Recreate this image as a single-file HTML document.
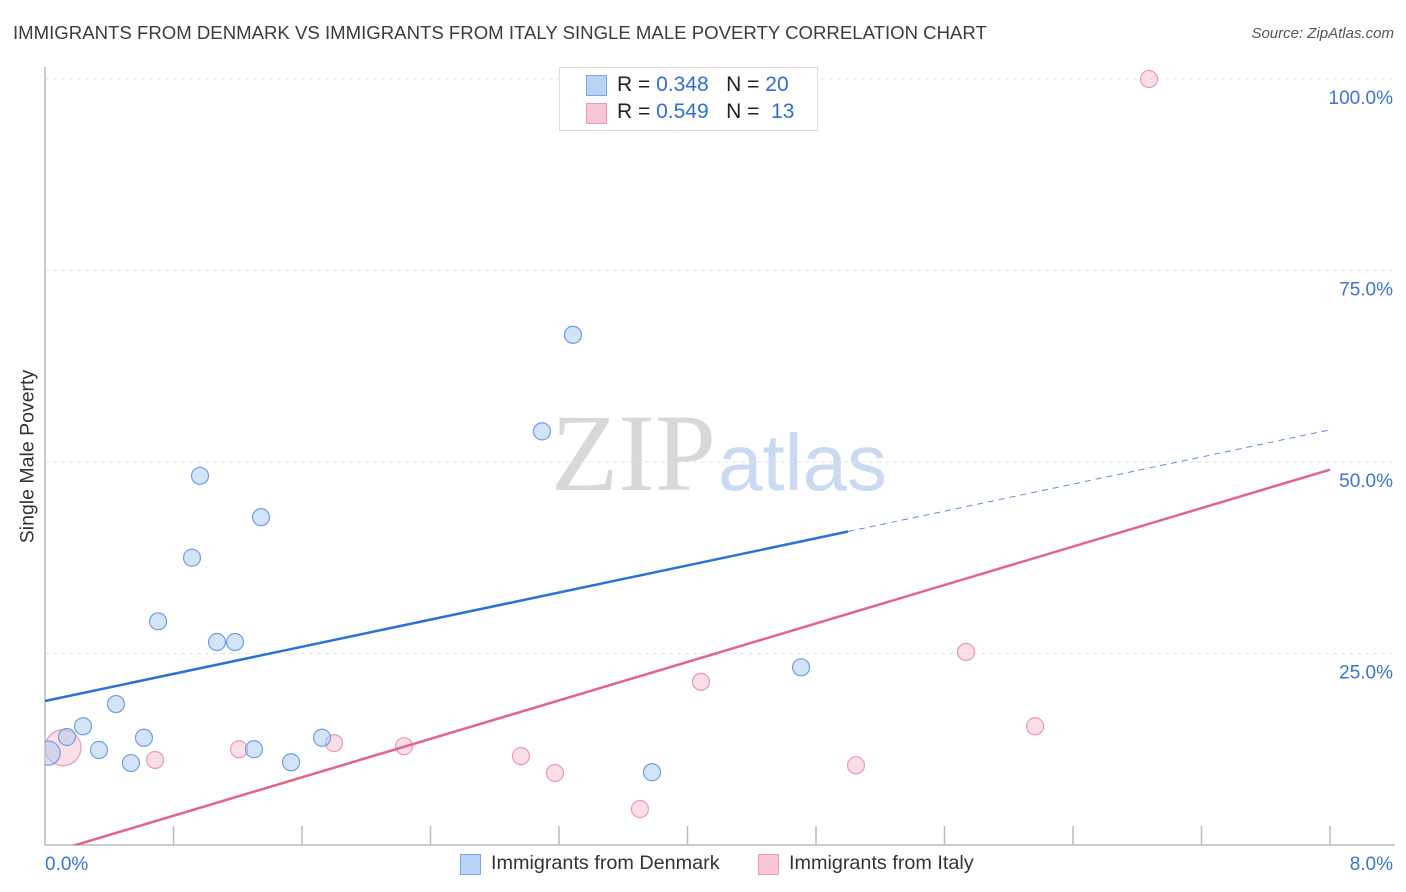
<!DOCTYPE html>
<html><head><meta charset="utf-8">
<style>
body{margin:0;background:#fff;font-family:"Liberation Sans",sans-serif;}
#wrap{position:relative;width:1406px;height:892px;overflow:hidden;}
.t{position:absolute;white-space:nowrap;}
</style></head>
<body>
<div id="wrap">
<div class="t" style="left:13px;top:22px;font-size:18.6px;color:#3c3c3c;">IMMIGRANTS FROM DENMARK VS IMMIGRANTS FROM ITALY SINGLE MALE POVERTY CORRELATION CHART</div>
<div class="t" style="right:12px;top:25px;font-size:15px;color:#555;font-style:italic;">Source: ZipAtlas.com</div>
<div class="t" style="left:-62px;top:445px;font-size:19.5px;color:#333;transform:rotate(-90deg);transform-origin:center;width:180px;text-align:center;">Single Male Poverty</div>
<svg id="plot" width="1406" height="892" style="position:absolute;left:0;top:0">
<text x="716" y="490" font-family="Liberation Serif,serif" font-size="110" fill="#d8d8d8" text-anchor="end">ZIP</text>
<text x="718" y="490" font-family="Liberation Sans,sans-serif" font-size="80" fill="#c9daf2">atlas</text>
</svg>
<div style="position:absolute;left:559px;top:67px;width:257px;height:62px;border:1px solid #ddd;background:#fff;"></div>
<div style="position:absolute;left:586px;top:75px;width:19px;height:19px;background:#b8d3f5;border:1px solid #7aa6e6;"></div>
<div style="position:absolute;left:586px;top:103px;width:19px;height:19px;background:#f9c6d5;border:1px solid #ee9ab6;"></div>
<div class="t" style="left:617px;top:73px;font-size:21px;color:#222;">R = <span style="color:#2f6fd3">0.348</span>&nbsp;&nbsp;&nbsp;N = <span style="color:#2f6fd3">20</span></div>
<div class="t" style="left:617px;top:100px;font-size:21px;color:#222;">R = <span style="color:#2f6fd3">0.549</span>&nbsp;&nbsp;&nbsp;N = &nbsp;<span style="color:#2f6fd3">13</span></div>
<div style="position:absolute;left:460px;top:854px;width:19px;height:19px;background:#b8d3f5;border:1px solid #7aa6e6;"></div>
<div class="t" style="left:491px;top:852px;font-size:19.8px;color:#333;">Immigrants from Denmark</div>
<div style="position:absolute;left:758px;top:854px;width:19px;height:19px;background:#f9c6d5;border:1px solid #ee9ab6;"></div>
<div class="t" style="left:789px;top:852px;font-size:19.8px;color:#333;">Immigrants from Italy</div>
</div>
<script>
const denX=[0.02,0.137,0.237,0.336,0.442,0.535,0.616,0.704,0.915,0.965,1.071,1.183,1.301,1.345,1.532,1.725,3.094,3.287,3.779,4.707];
const denY=[12.0,14.1,15.5,12.4,18.4,10.7,14.0,29.2,37.5,48.2,26.5,26.5,12.5,42.8,10.8,14.0,54.0,66.6,9.5,23.2];
const denR=[12,8.5,8.5,8.5,8.5,8.5,8.5,8.5,8.5,8.5,8.5,8.5,8.5,8.5,8.5,8.5,8.5,8.5,8.5,8.5];
const itaX=[0.112,0.685,1.208,1.799,2.235,2.963,3.175,3.704,4.084,5.049,5.734,6.164,6.873];
const itaY=[12.7,11.1,12.5,13.3,12.9,11.6,9.4,4.7,21.3,10.4,25.2,15.5,100];
const itaR=[18,8.5,8.5,8.5,8.5,8.5,8.5,8.5,8.5,8.5,8.5,8.5,8.5];
const denLine=[18.8,54.2]; const denSolidEnd=5.0;
const itaLine=[-1.2,49.0];
const yTicks=[25,50,75,100];
const yTickLabels=["25.0%","50.0%","75.0%","100.0%"];
const xTicks=[0,0.8,1.6,2.4,3.2,4.0,4.8,5.6,6.4,7.2,8.0];
const X0=45,X1=1330,Y0=845,Y100=79;
const sx=v=>X0+(v/8)*(X1-X0);
const sy=v=>Y0-(v/100)*(Y0-Y100);
const svg=document.getElementById('plot');
const NS='http://www.w3.org/2000/svg';
function mk(tag,a){const e=document.createElementNS(NS,tag);for(const k in a)e.setAttribute(k,a[k]);svg.appendChild(e);return e;}
yTicks.forEach((t,i)=>{
 const g=mk('line',{x1:X0,x2:1395,y1:sy(t),y2:sy(t),stroke:'#e3e3e3','stroke-dasharray':'4,4'});
 
 
 const tx=mk('text',{x:1393,y:sy(t)+25,'text-anchor':'end','font-size':19,fill:'#3a75d0','font-family':'Liberation Sans,sans-serif'});
 tx.textContent=yTickLabels[i];
 
 
});
const ya=mk('line',{x1:X0,x2:X0,y1:67,y2:Y0,stroke:'#bbb','stroke-width':1.5});


const xa=mk('line',{x1:X0,x2:1395,y1:Y0,y2:Y0,stroke:'#bbb','stroke-width':1.5});


xTicks.slice(1).forEach(t=>{
 const l=mk('line',{x1:sx(t),x2:sx(t),y1:826,y2:Y0,stroke:'#bbb','stroke-width':1.5});
 
 
});
const xl0=mk('text',{x:45,y:870,'font-size':19,fill:'#3a75d0','font-family':'Liberation Sans,sans-serif'});xl0.textContent='0.0%';


const xl1=mk('text',{x:1393,y:870,'text-anchor':'end','font-size':19,fill:'#3a75d0','font-family':'Liberation Sans,sans-serif'});xl1.textContent='8.0%';


const dy=x=>denLine[0]+(denLine[1]-denLine[0])*x/8;
const iy=x=>itaLine[0]+(itaLine[1]-itaLine[0])*x/8;
const cp=mk('clipPath',{id:'cp'});const r=document.createElementNS(NS,'rect');r.setAttribute('x',X0);r.setAttribute('y',60);r.setAttribute('width',1300);r.setAttribute('height',Y0-60);cp.appendChild(r);
function dot(x,y,rad,fill,stroke,name){const c=mk('circle',{cx:sx(x),cy:sy(y),r:rad,fill:fill,stroke:stroke,'stroke-width':1.2,'clip-path':'url(#cp)'});
 
 }
itaX.forEach((x,i)=>dot(x,itaY[i],itaR[i],'rgba(248,182,202,0.45)','#ec98b4','point-italy'));
denX.forEach((x,i)=>dot(x,denY[i],denR[i],'rgba(168,200,242,0.5)','#6d9fe2','point-denmark'));
const bl=mk('line',{x1:sx(0),y1:sy(dy(0)),x2:sx(denSolidEnd),y2:sy(dy(denSolidEnd)),stroke:'#2a72d6','stroke-width':2.5});


const bd=mk('line',{x1:sx(denSolidEnd),y1:sy(dy(denSolidEnd)),x2:sx(8),y2:sy(dy(8)),stroke:'#5b90dc','stroke-width':1,'stroke-dasharray':'6,5'});


const pl=mk('line',{x1:sx(0),y1:sy(iy(0)),x2:sx(8),y2:sy(iy(8)),stroke:'#e4628e','stroke-width':2.5,'clip-path':'url(#cp)'});


</script>
</body></html>
